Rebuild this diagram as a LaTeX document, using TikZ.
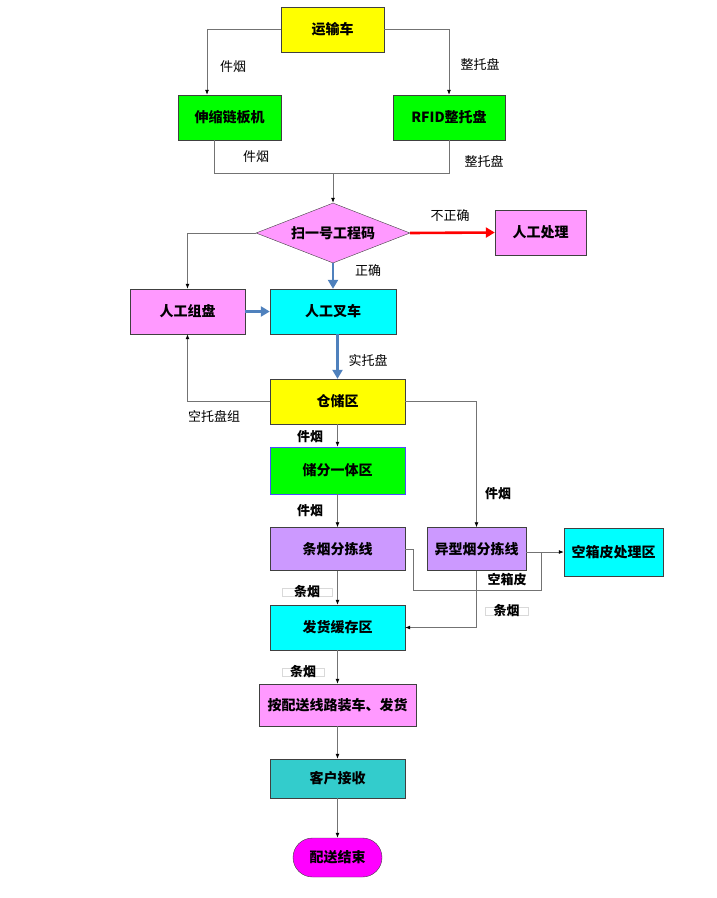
\documentclass[tikz,border=0pt]{standalone}
\usepackage{fontspec}
\newfontfamily\cjk{Noto Sans CJK SC}
\usetikzlibrary{arrows.meta, shapes.geometric, shapes.misc}

\definecolor{pinkbox}{HTML}{FF99FF}
\definecolor{purplebox}{HTML}{CC99FF}
\definecolor{tealbox}{HTML}{33CCCC}
\definecolor{cyanbox}{HTML}{00FFFF}
\definecolor{yellowbox}{HTML}{FFFF00}
\definecolor{greenbox}{HTML}{00FF00}
\definecolor{magentabox}{HTML}{FF00FF}
\definecolor{redarrow}{HTML}{FF0000}
\definecolor{bluearrow}{HTML}{4F81BD}

\tikzset{
	box/.style = {draw = black!75, inner sep = 0pt, minimum height = 45pt,
		font = \cjk\bfseries\fontsize{14}{16}\selectfont},
	line/.style = {draw = black!55, line width = 0.8pt},
	arr/.style = {line, -{Latex[length = 5pt, width = 4pt, color = black]}},
	fat/.style = {line width = 2.6pt, -{Triangle[length = 9pt, width = 10pt]}},
	lbl/.style = {font = \cjk\fontsize{13}{15}\selectfont, inner sep = 1pt},
	blbl/.style = {font = \cjk\bfseries\fontsize{13}{15}\selectfont, inner sep = 1pt},
	framed/.style = {blbl, draw = black!15, line width = 0.6pt, text height = 8pt,
		text depth = 0pt, inner sep = 0pt}
}

\begin{document}
\begin{tikzpicture}[x = 1pt, y = -1pt]
\useasboundingbox (0, 0) rectangle (716, 898);

\node[box, fill = yellowbox, minimum width = 103pt] (car) at (332.5, 29.5) {运输车};
\node[box, fill = greenbox, minimum width = 103pt] (chain) at (229.5, 117.5) {伸缩链板机};
\node[box, fill = greenbox, minimum width = 112pt] (rfid) at (449, 117.5) {RFID整托盘};
\node[box, diamond, fill = pinkbox, minimum width = 154pt, minimum height = 60pt,
	aspect = 2.5] (scan) at (333, 233) {扫一号工程码};
\node[box, fill = pinkbox, minimum width = 91pt] (manual) at (540.5, 232.5) {人工处理};
\node[box, fill = pinkbox, minimum width = 115pt] (group) at (187.5, 311.5) {人工组盘};
\node[box, fill = cyanbox, minimum width = 126pt] (fork) at (333, 311.5) {人工叉车};
\node[box, fill = yellowbox, minimum width = 135pt] (store) at (337.5, 401.5) {仓储区};
\node[box, fill = greenbox, draw = blue!70, minimum width = 135pt, minimum height = 47pt]
	(mix) at (337.5, 470.5) {储分一体区};
\node[box, fill = purplebox, minimum width = 135pt, minimum height = 43pt]
	(sort) at (337.5, 549) {条烟分拣线};
\node[box, fill = purplebox, minimum width = 99pt, minimum height = 43pt]
	(odd) at (476.5, 549) {异型烟分拣线};
\node[box, fill = cyanbox, minimum width = 99pt, minimum height = 48pt]
	(waste) at (613.5, 552) {空箱皮处理区};
\node[box, fill = cyanbox, minimum width = 135pt] (buffer) at (337.5, 627.5) {发货缓存区};
\node[box, fill = pinkbox, minimum width = 157pt, minimum height = 42pt]
	(load) at (337.5, 705) {按配送线路装车、发货};
\node[box, fill = tealbox, minimum width = 135pt, minimum height = 39pt]
	(client) at (337.5, 778.5) {客户接收};
\node[box, rounded rectangle, fill = magentabox, minimum width = 89pt, minimum height = 39pt]
	(finish) at (337.5, 857.5) {配送结束};

\coordinate (join) at (333, 173);
\coordinate (bend) at (541, 590);

\draw[arr] (car.west) -| ([xshift = -22.5pt]chain.north);
\draw[arr] (car.east) -| (rfid.north);
\draw[line] ([xshift = -15.5pt]chain.south) |- (join);
\draw[line] (rfid.south) |- (join);
\draw[arr] (join) -- (scan.north);
\draw[fat, redarrow] (scan.east) -- (manual.west);
\draw[fat, bluearrow] (scan.south) -- (fork.north);
\draw[arr] (scan.west) -| (group.north);
\draw[fat, bluearrow] (group.east) -- (fork.west);
\draw[fat, bluearrow] (store.north |- fork.south) -- (store.north);
\draw[arr] (store.west) -| (group.south);
\draw[arr] (store.east) -| (odd.north);
\draw[arr] (store) -- (mix);
\draw[arr] (mix) -- (sort);
\draw[arr] (sort) -- (buffer);
\draw[line] (sort.east) -- ++(8, 0) |- (bend) -- (bend |- waste.west);
\draw[arr] (odd.east |- waste.west) -- (waste.west);
\draw[arr] (odd.south) |- (buffer.east);
\draw[arr] (buffer) -- (load);
\draw[arr] (load) -- (client);
\draw[arr] (client) -- (finish);

\node[lbl] at (233, 67) {件烟};
\node[lbl] at (480, 64) {整托盘};
\node[lbl] at (256, 157) {件烟};
\node[lbl] at (484, 161) {整托盘};
\node[lbl] at (450, 216) {不正确};
\node[lbl] at (368, 271) {正确};
\node[lbl] at (368, 360) {实托盘};
\node[lbl] at (214, 416) {空托盘组};
\node[blbl] at (310, 437) {件烟};
\node[blbl] at (310, 511) {件烟};
\node[blbl] at (498, 494) {件烟};
\node[blbl] at (507, 580) {空箱皮};
\node[framed, minimum width = 50pt] at (307, 592) {条烟};
\node[framed, minimum width = 43pt] at (506.5, 611.5) {条烟};
\node[framed, minimum width = 42pt] at (303, 672.5) {条烟};
\end{tikzpicture}
\end{document}
